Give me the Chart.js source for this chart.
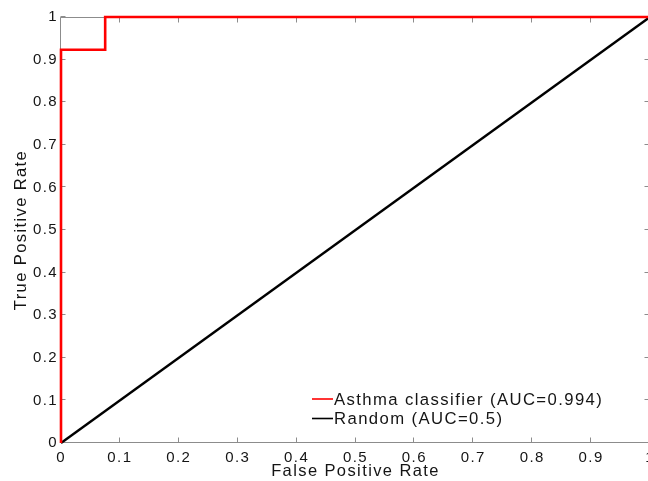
<!DOCTYPE html>
<html>
<head>
<meta charset="utf-8">
<script src="https://cdn.jsdelivr.net/npm/chart.js@4.4.1/dist/chart.umd.min.js"></script>
<style>
  html, body { margin: 0; padding: 0; background: #fff; overflow: hidden; }
  #wrap { width: 648px; height: 481px; overflow: hidden; position: relative; }
  canvas { position: absolute; left: 0; top: 0; }
</style>
</head>
<body>
<div id="wrap"><canvas id="roc" width="652" height="481"></canvas></div>
<script>
// ROC curve of the asthma classifier against the chance diagonal
const classifierFpr = [0, 0, 0.075, 0.075, 1];
const classifierTpr = [0, 0.923, 0.923, 1, 1];
const randomFpr = [0, 1];
const randomTpr = [0, 1];
const seriesLabels = ['Asthma classifier (AUC=0.994)', 'Random (AUC=0.5)'];
const seriesColors = ['#ff0000', '#000000'];
const tickValues = [0, 0.1, 0.2, 0.3, 0.4, 0.5, 0.6, 0.7, 0.8, 0.9, 1];
const xTitle = 'False Positive Rate';
const yTitle = 'True Positive Rate';

const FONT = '"Liberation Sans", Arial, Helvetica, sans-serif';
const SPACING = '1.4px';
const TEXT = '#141414';
const AXIS = '#8c8c8c';

function points(xs, ys) {
    return xs.map((x, i) => ({ x: x, y: ys[i] }));
}

function tickText(v) {
    return String(Math.round(v * 10) / 10);
}

function useTickValues(scale) {
    scale.ticks = tickValues.map(v => ({ value: v }));
}

// wider tracking on all canvas text (the figure's lettering is loose)
const spacing = {
    id: 'spacing',
    beforeLayout(chart) { chart.ctx.letterSpacing = SPACING; },
    beforeDraw(chart) { chart.ctx.letterSpacing = SPACING; }
};

// gray box round the plot with inward tick marks on all four sides
const axesBox = {
    id: 'axesBox',
    beforeDatasetsDraw(chart, args, opts) {
        const { ctx, chartArea: a, scales: { x, y } } = chart;
        const l = a.left - 0.5, r = a.right - 0.5, t = a.top + 0.5, b = a.bottom - 0.5;
        ctx.save();
        ctx.strokeStyle = opts.color;
        ctx.lineWidth = 1;
        ctx.beginPath();
        ctx.rect(l, t, r - l, b - t);
        tickValues.forEach(v => {
            const px = Math.round(x.getPixelForValue(v)) - 0.5;
            ctx.moveTo(px, b); ctx.lineTo(px, b - opts.length);
            ctx.moveTo(px, t); ctx.lineTo(px, t + opts.length);
            const py = Math.round(y.getPixelForValue(v)) - 0.5;
            ctx.moveTo(l, py); ctx.lineTo(l + opts.length, py);
            ctx.moveTo(r, py); ctx.lineTo(r - opts.length, py);
        });
        ctx.stroke();
        ctx.restore();
    }
};

// legend drawn inside the plot, lower right, with no frame
const insideLegend = {
    id: 'insideLegend',
    afterDraw(chart, args, o) {
        const ctx = chart.ctx;
        ctx.save();
        ctx.font = o.font;
        ctx.letterSpacing = SPACING;
        ctx.textBaseline = 'alphabetic';
        ctx.textAlign = 'left';
        chart.data.datasets.forEach((ds, i) => {
            const y = o.top + i * o.rowGap;
            ctx.strokeStyle = ds.borderColor;
            ctx.lineWidth = o.lineWidth;
            ctx.beginPath();
            ctx.moveTo(o.left, y);
            ctx.lineTo(o.left + o.sampleLen, y);
            ctx.stroke();
            ctx.fillStyle = o.color;
            ctx.fillText(ds.label, o.left + o.sampleLen + o.gap, y + o.baselineDrop);
        });
        ctx.restore();
    }
};

const tickFont = { family: FONT, size: 15 };
const titleFont = { family: FONT, size: 16.5 };

new Chart(document.getElementById('roc'), {
    type: 'scatter',
    data: {
        datasets: [
            {
                label: seriesLabels[0],
                data: points(classifierFpr, classifierTpr),
                showLine: true,
                borderColor: seriesColors[0],
                borderWidth: 2.6,
                pointRadius: 0,
                tension: 0,
                clip: false
            },
            {
                label: seriesLabels[1],
                data: points(randomFpr, randomTpr),
                showLine: true,
                borderColor: seriesColors[1],
                borderWidth: 2.4,
                pointRadius: 0,
                tension: 0,
                clip: false
            }
        ]
    },
    options: {
        responsive: false,
        animation: false,
        devicePixelRatio: 1,
        layout: { padding: { top: 17, right: 2, bottom: 0, left: 0 } },
        plugins: {
            legend: { display: false },
            tooltip: { enabled: false },
            axesBox: { color: AXIS, length: 5 },
            insideLegend: {
                font: '16.7px ' + FONT,
                color: TEXT,
                left: 312,
                top: 399,
                rowGap: 19.5,
                sampleLen: 21,
                gap: 1,
                lineWidth: 1.6,
                baselineDrop: 5.5
            }
        },
        scales: {
            x: {
                type: 'linear',
                min: 0,
                max: 1,
                afterBuildTicks: useTickValues,
                afterFit(s) { s.height = 38; s.paddingLeft = 0; s.paddingRight = 0; },
                grid: { display: false, drawTicks: false },
                border: { display: false },
                ticks: { autoSkip: false, maxRotation: 0, padding: 5.5, color: TEXT, font: tickFont, callback: tickText },
                title: { display: true, text: xTitle, color: TEXT, font: titleFont, padding: { top: 0, bottom: 0 } }
            },
            y: {
                type: 'linear',
                min: 0,
                max: 1,
                afterBuildTicks: useTickValues,
                afterFit(s) { s.width = 61; s.paddingTop = 0; s.paddingBottom = 0; },
                grid: { display: false, drawTicks: false },
                border: { display: false },
                ticks: { autoSkip: false, padding: 3, color: TEXT, font: tickFont, callback: tickText },
                title: { display: true, text: yTitle, color: TEXT, font: titleFont, padding: { top: 12, bottom: 0 } }
            }
        }
    },
    plugins: [spacing, axesBox, insideLegend]
});
</script>
</body>
</html>
